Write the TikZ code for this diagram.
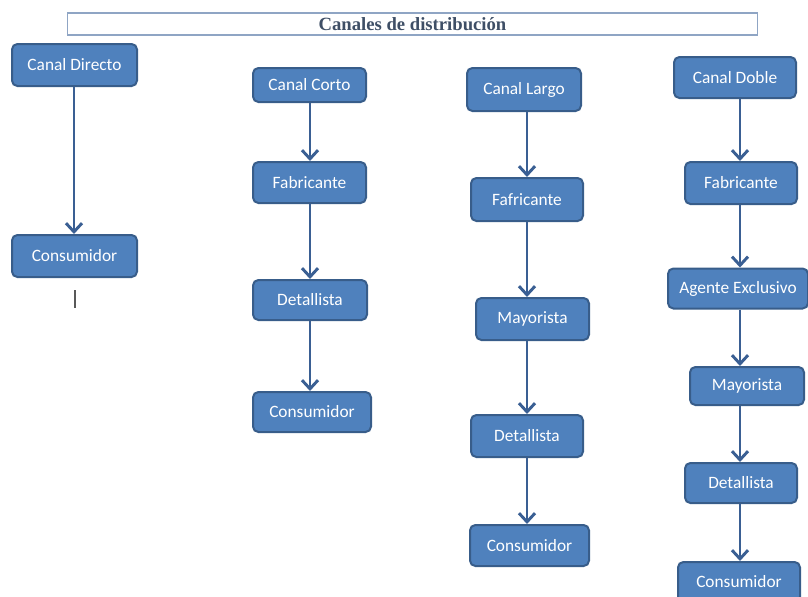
\documentclass[tikz,border=0pt]{standalone}
\usepackage{fontspec}
\setmainfont{Carlito}
\newfontfamily\titlefont{Liberation Serif}
\usetikzlibrary{arrows.meta}
\definecolor{boxfill}{HTML}{4F81BD}
\definecolor{boxline}{HTML}{385D8A}
\definecolor{arrowcol}{HTML}{3A5F93}
\definecolor{titletext}{HTML}{3F4F66}
\definecolor{titleline}{HTML}{8FA5C4}
\begin{document}
\begin{tikzpicture}[x=0.75pt,y=-0.75pt,
  stepbox/.style 2 args={draw=boxline, line width=1.5pt, fill=boxfill,
    rounded corners=4pt, minimum width=#1*0.75pt, minimum height=#2*0.75pt,
    inner sep=0pt, text=white, font=\fontsize{13}{15}\selectfont},
  flow/.style={draw=arrowcol, line width=2.2pt,
    -{Straight Barb[length=6.5pt,width=12pt,line width=2.2pt]}}]
\useasboundingbox (0,0) rectangle (808,597);

% title bar
\node[draw=titleline, line width=0.9pt, minimum width=690*0.75pt,
      minimum height=22*0.75pt, inner sep=0pt, text=titletext,
      font=\titlefont\bfseries\fontsize{14}{16}\selectfont]
      (title) at (412.5,24) {Canales de distribución};

% x positions of the connector lines in each column
\coordinate (xa) at (74,0);
\coordinate (xb) at (310,0);
\coordinate (xc) at (527,0);
\coordinate (xd) at (740,0);

% direct channel
\node[stepbox={125}{42}] (cd) at (74.5,65) {Canal Directo};
\node[stepbox={125}{42}] (cd1) at (74.5,256) {Consumidor};
\draw[flow] (cd.south -| xa) -- (cd1.north -| xa);
\draw[color=black!65, line width=1pt] (75,290) -- (75,308);

% short channel
\node[stepbox={113}{34}] (cc) at (309.5,85) {Canal Corto};
\node[stepbox={113}{41}] (cc1) at (309.5,182.5) {Fabricante};
\node[stepbox={114}{40}] (cc2) at (310,300) {Detallista};
\node[stepbox={118}{40}] (cc3) at (312,412) {Consumidor};
\draw[flow] (cc.south -| xb) -- (cc1.north -| xb);
\draw[flow] (cc1.south -| xb) -- (cc2.north -| xb);
\draw[flow] (cc2.south -| xb) -- (cc3.north -| xb);

% long channel
\node[stepbox={114}{43}] (cl) at (524,89.5) {Canal Largo};
\node[stepbox={112}{43}] (cl1) at (527,199.5) {Fafricante};
\node[stepbox={113}{42}] (cl2) at (532.5,319) {Mayorista};
\node[stepbox={112}{42}] (cl3) at (527,436) {Detallista};
\node[stepbox={119}{41}] (cl4) at (529.5,545.5) {Consumidor};
\draw[flow] (cl.south -| xc) -- (cl1.north -| xc);
\draw[flow] (cl1.south -| xc) -- (cl2.north -| xc);
\draw[flow] (cl2.south -| xc) -- (cl3.north -| xc);
\draw[flow] (cl3.south -| xc) -- (cl4.north -| xc);

% double channel
\node[stepbox={122}{41}] (db) at (735,77.5) {Canal Doble};
\node[stepbox={112}{42}] (db1) at (741,183) {Fabricante};
\node[stepbox={140}{40}] (db2) at (738,288.5) {Agente Exclusivo};
\node[stepbox={114}{38}] (db3) at (747,386) {Mayorista};
\node[stepbox={112}{40}] (db4) at (741,483) {Detallista};
\node[stepbox={122}{40}] (db5) at (739,582) {Consumidor};
\draw[flow] (db.south -| xd) -- (db1.north -| xd);
\draw[flow] (db1.south -| xd) -- (db2.north -| xd);
\draw[flow] (db2.south -| xd) -- (db3.north -| xd);
\draw[flow] (db3.south -| xd) -- (db4.north -| xd);
\draw[flow] (db4.south -| xd) -- (db5.north -| xd);
\end{tikzpicture}
\end{document}
